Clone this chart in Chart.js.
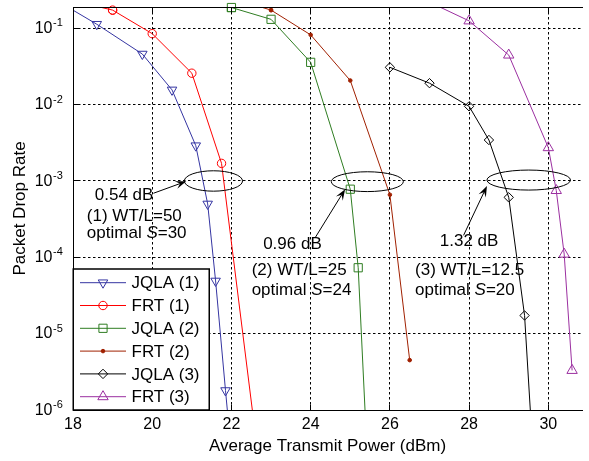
<!DOCTYPE html>
<html>
<head>
<meta charset="utf-8">
<script src="https://cdn.jsdelivr.net/npm/chart.js@4.4.1/dist/chart.umd.min.js"></script>
<style>
html,body{margin:0;padding:0;background:#fff;overflow:hidden}
canvas{display:block}
</style>
</head>
<body>
<canvas id="c" width="589" height="461"></canvas>
<script>
// ---------- data ----------
const seriesNames = ['JQLA (1)', 'FRT (1)', 'JQLA (2)', 'FRT (2)', 'JQLA (3)', 'FRT (3)'];
const jqla1Power = [17.5, 18.6, 19.75, 20.5, 21.1, 21.4, 21.6, 21.85, 21.95];
const jqla1Drop  = [0.246, 0.113, 0.046, 0.0156, 0.0029, 5.0e-4, 4.9e-5, 1.8e-6, 5e-7];
const frt1Power  = [18, 19, 20, 21, 21.75, 22.6];
const frt1Drop   = [0.23, 0.173, 0.085, 0.0258, 0.0017, 5e-7];
const jqla2Power = [22, 23, 24, 25, 25.2, 25.4];
const jqla2Drop  = [0.187, 0.131, 0.0358, 7.8e-4, 7.3e-5, 5e-7];
const frt2Power  = [22, 23, 24, 25, 26, 26.5];
const frt2Drop   = [0.25, 0.173, 0.082, 0.0207, 6.6e-4, 4.5e-6];
const jqla3Power = [26, 27, 28, 28.5, 29, 29.4, 29.58];
const jqla3Drop  = [0.0308, 0.0191, 0.0095, 0.00344, 6.1e-4, 1.73e-5, 5e-7];
const frt3Power  = [27, 28, 29, 30, 30.2, 30.4, 30.6];
const frt3Drop   = [0.22, 0.125, 0.0446, 0.00273, 7.5e-4, 1.1e-4, 3.3e-6];
const xTicks = [18, 20, 22, 24, 26, 28, 30];
const yTickExponents = [-6, -5, -4, -3, -2, -1];
const xRange = [18, 30.85];
const yRange = [1e-6, 0.19];

// annotation content (positions in data units)
const gapLabels = [
  {text: '0.54 dB', x: 18.55, y: 6.4e-4},
  {text: '0.96 dB', x: 22.80, y: 1.49e-4},
  {text: '1.32 dB', x: 27.26, y: 1.63e-4}
];
const caseLabels = [
  {line1: '(1) WT/L=50', s: '30', x: 18.35, y1: 3.43e-4, y2: 2.07e-4},
  {line1: '(2) WT/L=25', s: '24', x: 22.51, y1: 6.83e-5, y2: 3.74e-5},
  {line1: '(3) WT/L=12.5', s: '20', x: 26.635, y1: 6.83e-5, y2: 3.74e-5}
];
const ellipses = [
  {x0: 20.81, x1: 22.28, y0: 7.35e-4, y1: 1.36e-3},
  {x0: 24.52, x1: 26.34, y0: 7.26e-4, y1: 1.32e-3},
  {x0: 28.45, x1: 30.56, y0: 7.6e-4,  y1: 1.39e-3}
];
const arrows = [
  {x0: 20.03, y0: 6.9e-4, x1: 20.86, y1: 9.9e-4},
  {x0: 24.12, y0: 1.83e-4, x1: 24.87, y1: 7.8e-4},
  {x0: 27.86, y0: 1.94e-4, x1: 28.45, y1: 8.6e-4}
];

// ---------- styling ----------
const FONT = '"Liberation Sans", Arial, Helvetica, sans-serif';
const styles = [
  {color: '#3535a2', pointStyle: 'triangle', rotation: 180, radius: 5.5, fill: false},
  {color: '#ff0000', pointStyle: 'circle', rotation: 0, radius: 4.2, fill: false},
  {color: '#2f7d22', pointStyle: 'rect', rotation: 0, radius: 5.8, fill: false},
  {color: '#a02000', pointStyle: 'circle', rotation: 0, radius: 1.8, fill: true},
  {color: '#000000', pointStyle: 'rectRot', rotation: 0, radius: 4.7, fill: false},
  {color: '#9b2fa0', pointStyle: 'triangle', rotation: 0, radius: 6, fill: false}
];
const powers = [jqla1Power, frt1Power, jqla2Power, frt2Power, jqla3Power, frt3Power];
const drops  = [jqla1Drop, frt1Drop, jqla2Drop, frt2Drop, jqla3Drop, frt3Drop];

const inRange = p => p && p.x >= xRange[0] && p.x <= xRange[1] && p.y >= yRange[0] && p.y <= yRange[1];

const datasets = seriesNames.map((name, i) => {
  const st = styles[i];
  return {
    label: name,
    data: powers[i].map((x, k) => ({x: x, y: drops[i][k]})),
    borderColor: st.color,
    borderWidth: 1,
    pointStyle: st.pointStyle,
    pointRotation: st.rotation,
    pointRadius: ctx => inRange(ctx.raw) ? st.radius : 0,
    pointBorderColor: st.color,
    pointBackgroundColor: st.fill ? st.color : 'rgba(0,0,0,0)',
    pointBorderWidth: 1,
    tension: 0,
    fill: false,
    clip: 0
  };
});

function drawArrow(ctx, x0, y0, x1, y1) {
  const dx = x1 - x0, dy = y1 - y0, len = Math.hypot(dx, dy);
  const ux = dx / len, uy = dy / len, nx = -uy, ny = ux;
  const L = 11, W = 4;
  ctx.beginPath();
  ctx.moveTo(x0, y0);
  ctx.lineTo(x1 - ux * L * 0.6, y1 - uy * L * 0.6);
  ctx.stroke();
  ctx.beginPath();
  ctx.moveTo(x1, y1);
  ctx.lineTo(x1 - ux * L + nx * W, y1 - uy * L + ny * W);
  ctx.lineTo(x1 - ux * L * 0.6, y1 - uy * L * 0.6);
  ctx.lineTo(x1 - ux * L - nx * W, y1 - uy * L - ny * W);
  ctx.closePath();
  ctx.fill();
}

function drawMarker(ctx, st, x, y) {
  ctx.save();
  ctx.strokeStyle = st.color;
  ctx.fillStyle = st.fill ? st.color : 'rgba(0,0,0,0)';
  ctx.lineWidth = 1;
  if (Chart.helpers && Chart.helpers.drawPoint) {
    Chart.helpers.drawPoint(ctx, {pointStyle: st.pointStyle, rotation: st.rotation, radius: st.radius, borderWidth: 1}, x, y);
  } else {
    ctx.beginPath(); ctx.arc(x, y, st.radius, 0, Math.PI * 2);
    if (st.fill) ctx.fill(); ctx.stroke();
  }
  ctx.restore();
}

const decor = {
  id: 'decor',
  afterDatasetsDraw(chart) {
    // markers touching the top frame are not clipped (as in the reference)
    const ctx = chart.ctx, a = chart.chartArea;
    chart.data.datasets.forEach((ds, i) => {
      chart.getDatasetMeta(i).data.forEach(el => {
        if (el.options && el.options.radius > 0 && el.y < a.top + 8 && el.x >= a.left && el.x <= a.right) el.draw(ctx);
      });
    });
  },
  afterDraw(chart) {
    const ctx = chart.ctx, a = chart.chartArea, xs = chart.scales.x, ys = chart.scales.y;
    const al = p => Math.round(p - 0.5) + 0.5;
    ctx.save();
    ctx.setLineDash([]);
    ctx.strokeStyle = '#000';
    ctx.fillStyle = '#000';
    ctx.lineWidth = 1;
    const L = al(a.left), T = al(a.top), B = al(a.bottom);
    ctx.beginPath();
    ctx.moveTo(a.right + 1, T); ctx.lineTo(L, T); ctx.lineTo(L, B); ctx.lineTo(a.right + 1, B);
    ctx.stroke();
    // inward ticks
    ctx.beginPath();
    xTicks.forEach(v => {
      const px = al(xs.getPixelForValue(v));
      ctx.moveTo(px, B); ctx.lineTo(px, B - 6);
      ctx.moveTo(px, T); ctx.lineTo(px, T + 6);
    });
    yTickExponents.forEach(e => {
      const py = al(ys.getPixelForValue(Math.pow(10, e)));
      ctx.moveTo(L, py); ctx.lineTo(L + 6, py);
    });
    ctx.stroke();

    // y tick labels 10^e
    yTickExponents.forEach(e => {
      const py = ys.getPixelForValue(Math.pow(10, e));
      ctx.textBaseline = 'alphabetic';
      ctx.font = '16px ' + FONT;
      ctx.textAlign = 'right';
      ctx.fillText('10', a.left - 20.5, py + 4.7);
      ctx.font = '11px ' + FONT;
      ctx.textAlign = 'left';
      ctx.fillText(String(e), a.left - 20, py - 2);
    });

    // legend
    const bx = a.left, by = a.bottom - 141, bw = 136, bh = 141;
    ctx.fillStyle = '#fff';
    ctx.fillRect(bx, by, bw, bh);
    ctx.strokeStyle = '#000';
    ctx.lineWidth = 1.5;
    ctx.strokeRect(bx + 0.25, by, bw, bh);
    seriesNames.forEach((name, i) => {
      const st = styles[i];
      const y = by + 13.7 + i * 22.8;
      ctx.strokeStyle = st.color;
      ctx.lineWidth = 1;
      ctx.beginPath(); ctx.moveTo(bx + 7, y); ctx.lineTo(bx + 53, y); ctx.stroke();
      drawMarker(ctx, st, bx + 30, y);
      ctx.fillStyle = '#000';
      ctx.font = '17px ' + FONT;
      ctx.textAlign = 'left';
      ctx.textBaseline = 'middle';
      ctx.fillText(name, bx + 58.5, y + 1);
    });

    // ellipses
    ctx.strokeStyle = '#000';
    ctx.lineWidth = 1;
    ellipses.forEach(el => {
      const x0 = xs.getPixelForValue(el.x0), x1 = xs.getPixelForValue(el.x1);
      const y0 = ys.getPixelForValue(el.y0), y1 = ys.getPixelForValue(el.y1);
      ctx.beginPath();
      ctx.ellipse((x0 + x1) / 2, (y0 + y1) / 2, Math.abs(x1 - x0) / 2, Math.abs(y1 - y0) / 2, 0, 0, Math.PI * 2);
      ctx.stroke();
    });
    // arrows
    ctx.fillStyle = '#000';
    arrows.forEach(ar => {
      drawArrow(ctx, xs.getPixelForValue(ar.x0), ys.getPixelForValue(ar.y0), xs.getPixelForValue(ar.x1), ys.getPixelForValue(ar.y1));
    });
    // texts
    ctx.fillStyle = '#000';
    ctx.textAlign = 'left';
    ctx.textBaseline = 'middle';
    ctx.font = '17px ' + FONT;
    gapLabels.forEach(g => ctx.fillText(g.text, xs.getPixelForValue(g.x), ys.getPixelForValue(g.y)));
    caseLabels.forEach(c => {
      const x = xs.getPixelForValue(c.x);
      ctx.font = '17px ' + FONT;
      ctx.fillText(c.line1, x, ys.getPixelForValue(c.y1));
      const y2 = ys.getPixelForValue(c.y2);
      let cx = x;
      const parts = [['optimal ', false], ['S', true], ['=' + c.s, false]];
      parts.forEach(p => {
        ctx.font = (p[1] ? 'italic ' : '') + '17px ' + FONT;
        ctx.fillText(p[0], cx, y2);
        cx += ctx.measureText(p[0]).width;
      });
    });
    ctx.restore();
  }
};

new Chart(document.getElementById('c'), {
  type: 'line',
  data: {datasets: datasets},
  plugins: [decor],
  options: {
    responsive: false,
    animation: false,
    devicePixelRatio: 1,
    events: [],
    layout: {padding: {top: 4, left: 0, right: 0, bottom: 0}},
    plugins: {legend: {display: false}, tooltip: {enabled: false}},
    scales: {
      x: {
        type: 'linear',
        min: xRange[0], max: xRange[1],
        afterBuildTicks: s => { s.ticks = xTicks.map(v => ({value: v})); },
        afterFit: s => { s.height = 51; },
        ticks: {color: '#000', font: {family: FONT, size: 16}, padding: 5, maxRotation: 0, autoSkip: false, callback: v => String(v)},
        grid: {color: '#000', lineWidth: 1, drawTicks: false},
        border: {display: false, dash: [2.5, 2.5]},
        title: {display: true, text: 'Average Transmit Power (dBm)', color: '#000', font: {family: FONT, size: 17, lineHeight: 1.2}, padding: {top: 0, bottom: 4}}
      },
      y: {
        type: 'logarithmic',
        min: yRange[0], max: yRange[1],
        afterBuildTicks: s => { s.ticks = yTickExponents.map(e => ({value: Math.pow(10, e)})); },
        afterFit: s => { s.width = 73; },
        ticks: {display: false},
        grid: {color: '#000', lineWidth: 1, drawTicks: false},
        border: {display: false, dash: [2.5, 2.5]},
        title: {display: true, text: 'Packet Drop Rate', color: '#000', font: {family: FONT, size: 17, lineHeight: 1.2}, padding: {top: 10, bottom: 0}}
      }
    }
  }
});
</script>
</body>
</html>
